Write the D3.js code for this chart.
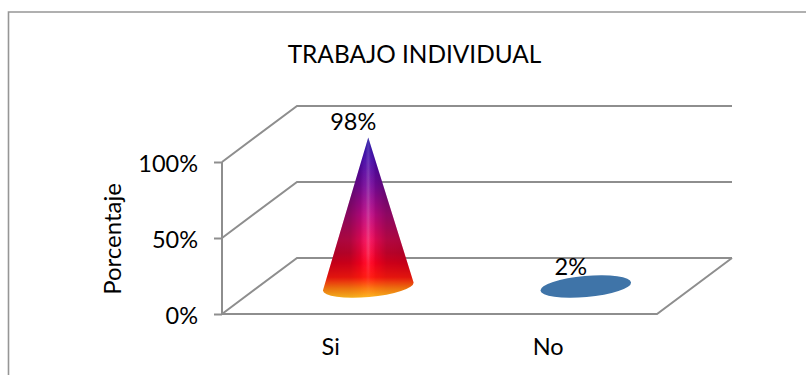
<!DOCTYPE html>
<html>
<head>
<meta charset="utf-8">
<script src="https://cdn.jsdelivr.net/npm/d3@7"></script>
<style>
  html, body { margin: 0; padding: 0; background: #fff; }
  svg { display: block; }
  text { font-family: Lato, "Open Sans", sans-serif; fill: #000; }
</style>
</head>
<body>
<svg id="chart" width="806" height="375"></svg>
<script>
const chartTitle = "TRABAJO INDIVIDUAL";
const yTitle = "Porcentaje";
const categories = ["Si", "No"];
const values = [98, 2];
const valueLabels = ["98%", "2%"];
const yTicks = [0, 50, 100];

const lineColor = "#8e8e8e";
const depthX = 75, depthY = -56;
const coneDepthX = 37.5, coneDepthY = -27.5;
const rx = 45.5, ry = 10.5, tilt = -5;

const svg = d3.select("#chart");

const x = d3.scaleBand().domain(categories).range([222, 657]);
const y = d3.scaleLinear().domain([0, 100]).range([314, 162]);

// Chart frame: only the top and left edges show
svg.append("path")
  .attr("d", "M8.5,375V12H806")
  .attr("fill", "none").attr("stroke", "#969696").attr("stroke-width", 1.6);

svg.append("text").attr("x", 414.5).attr("y", 63)
  .attr("text-anchor", "middle").attr("font-size", 24.4).text(chartTitle);

// Back wall gridlines and the side wall diagonals
const grid = svg.append("g").attr("fill", "none").attr("stroke", lineColor).attr("stroke-width", 2);
yTicks.forEach(t => {
  const yy = y(t);
  grid.append("path").attr("d", d3.line()([
    [x.range()[0], yy],
    [x.range()[0] + depthX, yy + depthY],
    [x.range()[1] + depthX, yy + depthY]
  ]));
});
// Floor front edge and right diagonal
grid.append("path").attr("d", d3.line()([
  [x.range()[0], y(0)],
  [x.range()[1], y(0)],
  [x.range()[1] + depthX, y(0) + depthY]
]));

// Value axis on the front left corner
const axis = svg.append("g").attr("transform", `translate(${x.range()[0]},0)`)
  .call(d3.axisLeft(y).tickValues(yTicks).tickSize(8).tickPadding(16).tickFormat(d => d + "%"));
axis.selectAll("path, line").attr("stroke", lineColor).attr("stroke-width", 2);
axis.select(".domain").attr("d", `M0,${y(100)}V${y(0)}`);
axis.selectAll("text").attr("font-size", 23.5).attr("fill", "#000").attr("dy", "0.42em")
  .style("font-family", "Lato, 'Open Sans', sans-serif");

svg.append("text")
  .attr("transform", `translate(121,239) rotate(-90)`)
  .attr("text-anchor", "middle").attr("font-size", 24).text(yTitle);

// Category labels under the floor
svg.selectAll(".cat").data(categories).join("text").attr("class", "cat")
  .attr("x", d => x(d) + x.bandwidth() / 2).attr("y", 355)
  .attr("text-anchor", "middle").attr("font-size", 23.5).text(d => d);

// Cone fills: vertical colour ramp plus a horizontal sheen
const defs = svg.append("defs");
const ramp = defs.append("linearGradient").attr("id", "ramp")
  .attr("gradientUnits", "userSpaceOnUse").attr("x1", 0).attr("x2", 0).attr("y1", 138).attr("y2", 298);
[[0, "#14049c"], [0.14, "#4808a8"], [0.3, "#7a0a9c"], [0.48, "#c00a84"], [0.64, "#f20a58"],
 [0.78, "#ff0020"], [0.87, "#ff1810"], [0.94, "#fb7a10"], [1, "#fdb820"]]
  .forEach(s => ramp.append("stop").attr("offset", s[0]).attr("stop-color", s[1]));

const sheen = defs.append("linearGradient").attr("id", "sheen");
[[0, "#000", 0.32], [0.3, "#000", 0.28], [0.42, "#000", 0.1], [0.47, "#fff", 0.06], [0.5, "#fff", 0.2],
 [0.53, "#fff", 0.06], [0.58, "#000", 0.1], [0.7, "#000", 0.26], [1, "#000", 0.32]]
  .forEach(s => sheen.append("stop").attr("offset", s[0]).attr("stop-color", s[1]).attr("stop-opacity", s[2]));

// The side shading fades out toward the lit base of the cone
const fade = defs.append("linearGradient").attr("id", "fade")
  .attr("gradientUnits", "userSpaceOnUse").attr("x1", 0).attr("x2", 0).attr("y1", 138).attr("y2", 298);
[[0, "#fff"], [0.72, "#fff"], [0.9, "#444"], [1, "#222"]]
  .forEach(s => fade.append("stop").attr("offset", s[0]).attr("stop-color", s[1]));
defs.append("mask").attr("id", "sheenFade").attr("maskUnits", "userSpaceOnUse")
  .attr("x", 0).attr("y", 0).attr("width", 806).attr("height", 375)
  .append("rect").attr("width", 806).attr("height", 375).attr("fill", "url(#fade)");

function conePath(d, i) {
  const cx = x(categories[i]) + x.bandwidth() / 2 + coneDepthX;
  const cy = y(0) + coneDepthY;
  const a = tilt * Math.PI / 180;
  const dx = rx * Math.cos(a), dy = rx * Math.sin(a);
  const apexY = cy - (y(0) - y(d));
  const l = [cx - dx, cy - dy], r = [cx + dx, cy + dy];
  return `M${l}A${rx},${ry} ${tilt} 1 0 ${r}A${rx},${ry} ${tilt} 1 0 ${l}Z` +
         `M${cx},${apexY}L${l}L${r}Z`;
}

const coneFills = ["url(#ramp)", "#3f74a8"];
const marks = svg.selectAll(".mark").data(values).join("g").attr("class", "mark");
marks.append("path").attr("d", conePath).attr("fill", (d, i) => coneFills[i]);
marks.filter((d, i) => i === 0).append("path").attr("d", conePath)
  .attr("fill", "url(#sheen)").attr("mask", "url(#sheenFade)");

// Data labels sit just above each apex
svg.selectAll(".val").data(values).join("text").attr("class", "val")
  .attr("x", (d, i) => x(categories[i]) + x.bandwidth() / 2 + coneDepthX - 15)
  .attr("y", d => y(d) + coneDepthY - 8)
  .attr("text-anchor", "middle").attr("font-size", 23.5)
  .text((d, i) => valueLabels[i]);
</script>
</body>
</html>
